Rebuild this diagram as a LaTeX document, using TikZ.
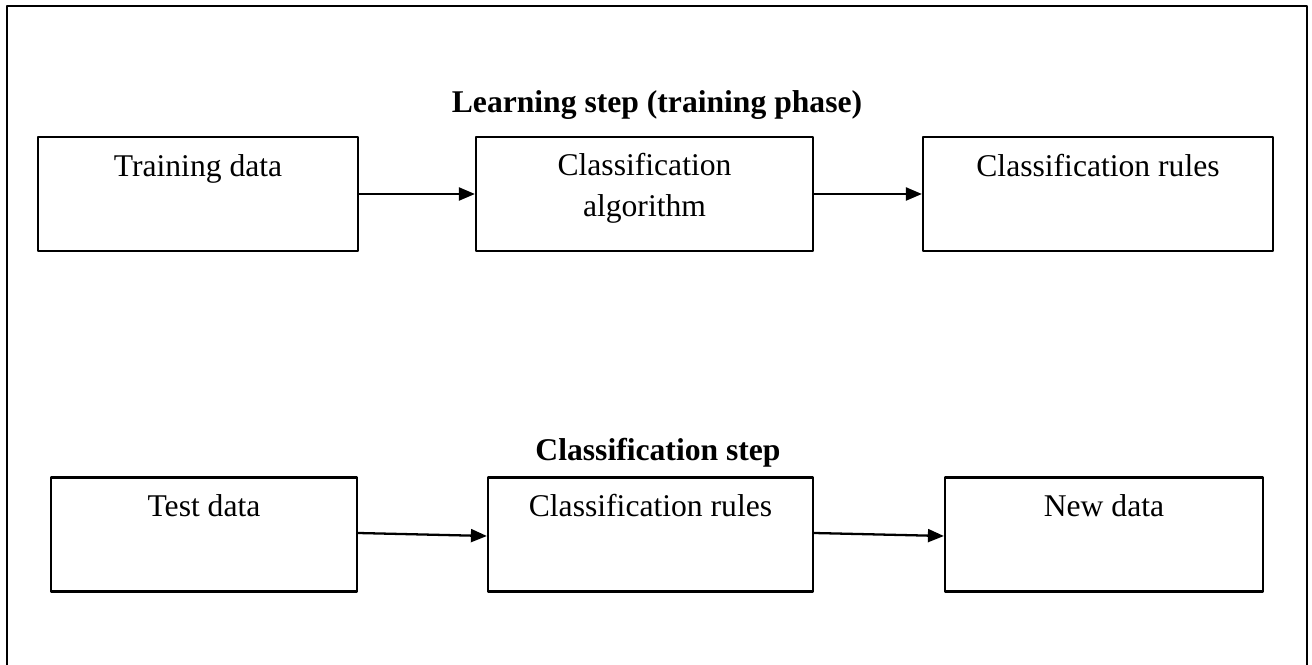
\documentclass[tikz,border=0pt]{standalone}
\usepackage{fontspec}
\setmainfont{Liberation Serif}
\usetikzlibrary{arrows.meta}
\tikzset{
  box/.style={draw,line width=1.3pt,minimum height=2.28cm,inner sep=0pt},
  txt/.style={anchor=base,yshift=-0.81cm,align=center,inner sep=0pt},
  txttwo/.style={anchor=base,yshift=-1.61cm,align=center,inner sep=0pt},
  ttl/.style={anchor=base,font=\fontsize{18}{23}\selectfont\bfseries,inner sep=0pt}
}
\begin{document}
\begin{tikzpicture}[x=0.02cm,y=-0.02cm,>={Triangle[length=0.32cm,width=0.26cm]},line join=round,font=\fontsize{18}{23}\selectfont]
\useasboundingbox (0,0) rectangle (1312,665);
\draw[line width=1.3pt] (7,665)--(7,6)--(1307,6)--(1307,665);

% learning step
\node[ttl] (learn) at (657,113) {Learning step (training phase)};
\node[box,minimum width=6.4cm,label={[txt]north:Training data}] (train) at (198,194) {};
\node[box,minimum width=6.74cm,label={[txttwo]north:Classification\\algorithm}] (algo) at (644.5,194) {};
\node[box,minimum width=7cm,label={[txt]north:Classification rules}] (rules) at (1098,194) {};
\draw[->,line width=1.3pt] (train)--(algo);
\draw[->,line width=1.3pt] (algo)--(rules);

% classification step
\node[ttl] (clstep) at (658,460) {Classification step};
\node[box,minimum width=6.12cm,label={[txt]north:Test data}] (test) at (204,534.5) {};
\node[box,minimum width=6.5cm,label={[txt]north:Classification rules}] (rulesb) at (650.5,534.5) {};
\node[box,minimum width=6.36cm,label={[txt]north:New data}] (new) at (1104,534.5) {};
\draw[->,line width=1.3pt] ([yshift=0.03cm]test.east)--([yshift=-0.03cm]rulesb.west);
\draw[->,line width=1.3pt] ([yshift=0.03cm]rulesb.east)--([yshift=-0.03cm]new.west);
\end{tikzpicture}
\end{document}
